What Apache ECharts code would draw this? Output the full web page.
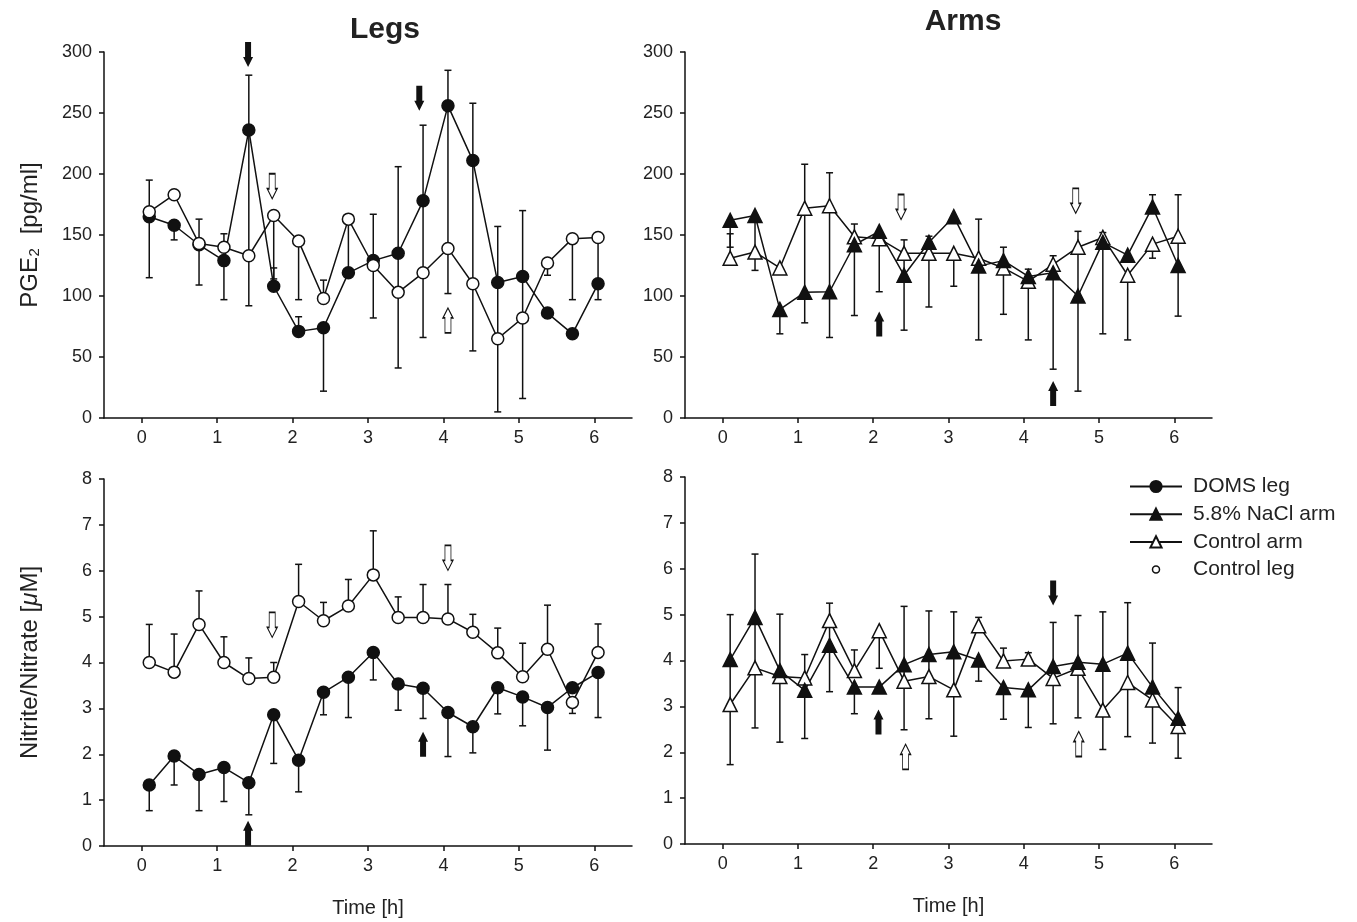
<!DOCTYPE html>
<html>
<head>
<meta charset="utf-8">
<script src="https://cdn.jsdelivr.net/npm/echarts@6/dist/echarts.min.js"></script>
<style>
  html, body { margin: 0; background: #fff; }
  #chart { width: 1357px; height: 922px; }
</style>
</head>
<body>
<div id="chart"></div>
<script>
const font = "'Liberation Sans', Arial, sans-serif"

// sampling times [h]
const times = [0.1, 0.43, 0.76, 1.09, 1.42, 1.75, 2.08, 2.41, 2.74, 3.07, 3.4, 3.73, 4.06, 4.39, 4.72, 5.05, 5.38, 5.71, 6.05]
const xTicks = [0, 1, 2, 3, 4, 5, 6]

// PGE2 - legs
const domsLegPge = [165, 158, 142, 129, 236, 108, 71, 74, 119, 129, 135, 178, 256, 211, 111, 116, 86, 69, 110]
const domsLegPgeBars = [[115, 165], [146, 158], [109, 142], [97, 129], [92, 281], [108, 123], [71, 83], [22, 74], null, [129, 167],
  [103, 206], [119, 240], [139, 285], [110, 258], [65, 157], [82, 170], [82, 86], null, [97, 110]]
const ctrlLegPge = [169, 183, 143, 140, 133, 166, 145, 98, 163, 125, 103, 119, 139, 110, 65, 82, 127, 147, 148]
const ctrlLegPgeBars = [[169, 195], null, [143, 163], [140, 151], null, [114, 166], [97, 145], [98, 113], [122, 163], [82, 125],
  [41, 103], [66, 119], [102, 139], [55, 110], [5, 65], [16, 82], [117, 127], [97, 147], [110, 148]]

// PGE2 - arms
const naclArmPge = [162, 166, 89, 103, 103.5, 142, 153, 117, 144, 165, 124.5, 129, 116, 119, 100, 144, 133.5, 173, 125]
const naclArmPgeBars = [[140, 162], [121, 166], [69, 89], [78, 172], [66, 174], [84, 142], null, [72, 135], [144, 149], null,
  [64, 124.5], [129, 140], [116, 122], [40, 119], [22, 140], [69, 144], null, [173, 183], [83.5, 149]]
const ctrlArmPge = [131, 136, 123, 172, 174, 148.5, 147, 135, 135, 135, 131, 123, 112, 126, 140, 148, 117, 142.5, 149]
const ctrlArmPgeBars = [[131, 151], null, null, [172, 208], [174, 201], [148.5, 159], [103.5, 147], [135, 146], [91, 135], [108, 135],
  [131, 163], [85, 123], [64, 112], [126, 133], [140, 153], [148, 152], [64, 117], [131, 142.5], [149, 183]]

// Nitrite/Nitrate - legs
const domsLegNo = [1.33, 1.96, 1.56, 1.71, 1.38, 2.86, 1.87, 3.35, 3.68, 4.22, 3.53, 3.44, 2.91, 2.60, 3.45, 3.25, 3.02, 3.45, 3.78]
const domsLegNoBars = [[0.77, 1.33], [1.33, 1.96], [0.77, 1.56], [0.97, 1.71], [0.68, 1.38], [1.80, 2.86], [1.18, 1.87], [2.86, 3.35],
  [2.80, 3.68], [3.62, 4.22], [2.96, 3.53], [2.78, 3.44], [1.95, 2.91], [2.03, 2.60], [2.88, 3.45], [2.62, 3.25], [2.09, 3.02], null, [2.80, 3.78]]
const ctrlLegNo = [4.00, 3.79, 4.83, 4.00, 3.65, 3.68, 5.33, 4.91, 5.23, 5.91, 4.98, 4.98, 4.95, 4.66, 4.21, 3.69, 4.29, 3.13, 4.22]
const ctrlLegNoBars = [[4.00, 4.83], [3.79, 4.62], [4.83, 5.56], [4.00, 4.56], [3.65, 4.10], [3.68, 4.00], [5.33, 6.14], [4.91, 5.31],
  [5.23, 5.81], [5.91, 6.87], [4.98, 5.43], [4.98, 5.70], [4.95, 5.70], [4.66, 5.05], [4.21, 4.75], [3.69, 4.42], [4.29, 5.25], [2.89, 3.13], [4.22, 4.84]]

// Nitrite/Nitrate - arms
const naclArmNo = [4.02, 4.94, 3.78, 3.35, 4.33, 3.42, 3.42, 3.91, 4.13, 4.19, 4.01, 3.41, 3.36, 3.87, 3.96, 3.92, 4.16, 3.42, 2.74]
const naclArmNoBars = [[3.04, 5.0], [3.84, 6.32], [3.78, 5.01], [2.30, 3.35], [3.32, 4.87], [2.84, 3.42], null, [3.55, 5.18], [3.65, 5.08],
  [3.36, 5.06], [3.55, 4.01], [2.72, 3.41], [2.54, 3.36], [3.61, 4.83], [3.83, 4.98], [2.92, 5.06], [3.52, 5.26], [3.14, 4.38], [2.56, 3.41]]
const ctrlArmNo = [3.04, 3.84, 3.65, 3.62, 4.87, 3.78, 4.65, 3.55, 3.65, 3.36, 4.76, 3.99, 4.03, 3.61, 3.83, 2.92, 3.52, 3.14, 2.56]
const ctrlArmNoBars = [[1.73, 3.04], [2.53, 3.84], [2.22, 3.65], [3.62, 4.13], [4.87, 5.25], [3.78, 4.23], [3.83, 4.65], [2.49, 3.55],
  [2.73, 3.65], [2.35, 3.36], [4.76, 4.94], [3.99, 4.27], [4.03, 4.17], [2.62, 3.61], [2.75, 3.83], [2.06, 2.92], [2.34, 3.52], [2.20, 3.14], [1.87, 2.56]]

// arrows: [time, value, direction, filled]
const legPgeArrows = [[1.41, 298, 'down', 1], [3.68, 262, 'down', 1], [1.73, 190, 'down', 0], [4.06, 80, 'up', 0]]
const armPgeArrows = [[2.08, 77, 'up', 1], [2.37, 173, 'down', 0], [4.69, 178, 'down', 0], [4.39, 20, 'up', 1]]
const legNoArrows = [[1.41, 0.28, 'up', 1], [1.73, 4.82, 'down', 0], [4.06, 6.28, 'down', 0], [3.73, 2.22, 'up', 1]]
const armNoArrows = [[2.07, 2.66, 'up', 1], [2.43, 1.9, 'up', 0], [4.39, 5.47, 'down', 1], [4.73, 2.18, 'up', 0]]

const ink = '#111'
const arrowDown = 'path://M2,0L8,0L8,15L10,15L5,25L0,15L2,15Z'
const arrowUp = 'path://M5,0L10,10L8,10L8,25L2,25L2,10L0,10Z'
const smallCircle = 'path://M0,0M14,14M3.5,7A3.5,3.5,0,1,1,10.5,7A3.5,3.5,0,1,1,3.5,7Z'

function lineSeries(name, values, g, symbol, filled) {
  return {
    name, type: 'line', xAxisIndex: g, yAxisIndex: g, z: 3,
    symbol, symbolSize: symbol === 'triangle' ? 14 : 12,
    showAllSymbol: true,
    lineStyle: { color: ink, width: 1.5 },
    itemStyle: { color: filled ? ink : '#fff', borderColor: ink, borderWidth: 1.5 },
    data: times.map((t, i) => [t, values[i]])
  }
}

function barSeries(bars, g) {
  return {
    type: 'custom', xAxisIndex: g, yAxisIndex: g, z: 1, silent: true,
    renderItem(params, api) {
      const lo = api.coord([api.value(0), api.value(1)])
      const hi = api.coord([api.value(0), api.value(2)])
      const st = { stroke: ink, lineWidth: 1.5 }
      return {
        type: 'group',
        children: [
          { type: 'line', shape: { x1: lo[0], y1: lo[1], x2: hi[0], y2: hi[1] }, style: st },
          { type: 'line', shape: { x1: lo[0] - 3.5, y1: lo[1], x2: lo[0] + 3.5, y2: lo[1] }, style: st },
          { type: 'line', shape: { x1: hi[0] - 3.5, y1: hi[1], x2: hi[0] + 3.5, y2: hi[1] }, style: st }
        ]
      }
    },
    data: times.map((t, i) => bars[i] ? [t, bars[i][0], bars[i][1]] : null).filter(d => d)
  }
}

function arrowSeries(list, g) {
  return {
    type: 'scatter', xAxisIndex: g, yAxisIndex: g, z: 4, silent: true,
    symbolSize: [10, 25],
    data: list.map(a => ({
      value: [a[0], a[1]],
      symbol: a[2] === 'down' ? arrowDown : arrowUp,
      itemStyle: { color: a[3] ? ink : '#fff', borderColor: ink, borderWidth: a[3] ? 0 : 1.2, opacity: 1 }
    }))
  }
}

function xAxis(g, named) {
  return {
    gridIndex: g, type: 'value', min: -0.5, max: 6.5,
    axisLine: { onZero: false, lineStyle: { color: ink, width: 1.5 } },
    axisTick: { customValues: xTicks, length: 5, lineStyle: { color: ink, width: 1.5 } },
    axisLabel: { customValues: xTicks, color: '#222', fontSize: 18, margin: 11, fontFamily: font },
    splitLine: { show: false },
    name: named ? 'Time [h]' : '', nameLocation: 'middle', nameGap: 52,
    nameTextStyle: { color: '#222', fontSize: 20, fontFamily: font }
  }
}

function yAxis(g, max, interval, name) {
  return {
    gridIndex: g, type: 'value', min: 0, max, interval,
    axisLine: { show: true, onZero: false, lineStyle: { color: ink, width: 1.5 } },
    axisTick: { show: true, length: 5, lineStyle: { color: ink, width: 1.5 } },
    axisLabel: { color: '#222', fontSize: 18, margin: 12, fontFamily: font },
    splitLine: { show: false },
    name, nameLocation: 'middle', nameGap: 62,
    nameTextStyle: {
      color: '#222', fontSize: 24, fontFamily: font,
      rich: { n: { fontSize: 24, fontFamily: font, color: '#222' }, i: { fontSize: 24, fontFamily: font, color: '#222', fontStyle: 'italic' } }
    }
  }
}

const chart = echarts.init(document.getElementById('chart'))
chart.setOption({
  animation: false,
  textStyle: { fontFamily: font },
  title: [
    { text: 'Legs', left: 380, top: 10, textAlign: 'center', textStyle: { fontSize: 30, fontWeight: 'bold', color: '#222', fontFamily: font } },
    { text: 'Arms', left: 958, top: 2, textAlign: 'center', textStyle: { fontSize: 30, fontWeight: 'bold', color: '#222', fontFamily: font } }
  ],
  legend: {
    orient: 'vertical', left: 1124, top: 471, itemWidth: 52, itemHeight: 14, itemGap: 6.7,
    selectedMode: false,
    textStyle: { fontSize: 21, color: '#222', fontFamily: font, padding: [0, 0, 0, 6] },
    data: ['DOMS leg', '5.8% NaCl arm', 'Control arm',
      { name: 'Control leg', icon: smallCircle, itemStyle: { color: '#fff', borderColor: ink, borderWidth: 1.5 } }]
  },
  grid: [
    { left: 104, top: 52, width: 528, height: 366 },
    { left: 685, top: 52, width: 527, height: 366 },
    { left: 104, top: 479, width: 528, height: 367 },
    { left: 685, top: 477, width: 527, height: 367 }
  ],
  xAxis: [xAxis(0, false), xAxis(1, false), xAxis(2, true), xAxis(3, true)],
  yAxis: [
    yAxis(0, 300, 50, 'PGE\u2082  [pg/ml]'),
    yAxis(1, 300, 50, ''),
    yAxis(2, 8, 1, '{n|Nitrite/Nitrate [}{i|\u03bc}{n|M]}'),
    yAxis(3, 8, 1, '')
  ],
  series: [
    barSeries(domsLegPgeBars, 0), barSeries(ctrlLegPgeBars, 0),
    lineSeries('DOMS leg', domsLegPge, 0, 'circle', true),
    lineSeries('Control leg', ctrlLegPge, 0, 'circle', false),
    arrowSeries(legPgeArrows, 0),

    barSeries(naclArmPgeBars, 1), barSeries(ctrlArmPgeBars, 1),
    lineSeries('Control arm', ctrlArmPge, 1, 'triangle', false),
    lineSeries('5.8% NaCl arm', naclArmPge, 1, 'triangle', true),
    arrowSeries(armPgeArrows, 1),

    barSeries(domsLegNoBars, 2), barSeries(ctrlLegNoBars, 2),
    lineSeries('DOMS leg', domsLegNo, 2, 'circle', true),
    lineSeries('Control leg', ctrlLegNo, 2, 'circle', false),
    arrowSeries(legNoArrows, 2),

    barSeries(naclArmNoBars, 3), barSeries(ctrlArmNoBars, 3),
    lineSeries('Control arm', ctrlArmNo, 3, 'triangle', false),
    lineSeries('5.8% NaCl arm', naclArmNo, 3, 'triangle', true),
    arrowSeries(armNoArrows, 3)
  ]
})
</script>
</body>
</html>
